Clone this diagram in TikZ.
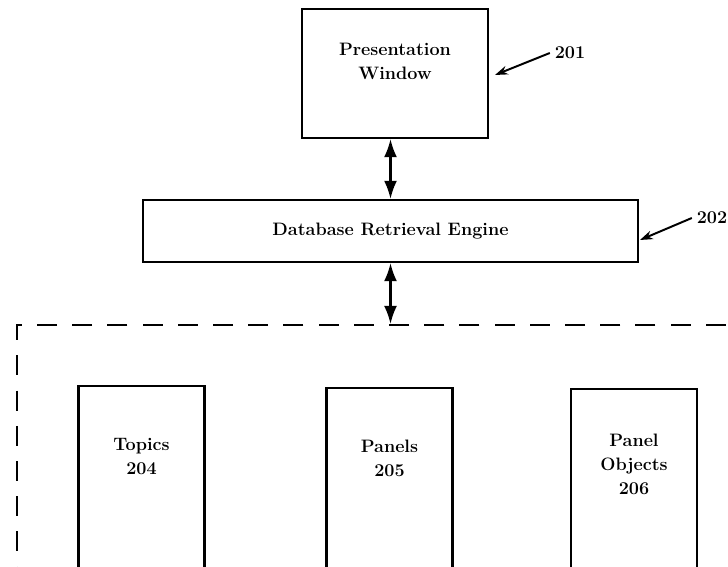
\documentclass[tikz,border=0pt]{standalone}
\usepackage{tikz}
\usetikzlibrary{arrows.meta, positioning, calc}

\tikzstyle{block} = [rectangle, draw, line width=1.5pt, inner sep=0pt]
\tikzstyle{column} = [block, anchor=north, minimum width=3.15cm, minimum height=6cm]
\tikzstyle{boxtext} = [font=\fontsize{12.8}{17}\selectfont\bfseries, align=center]
\tikzstyle{store} = [rectangle, draw, line width=1.5pt, dash pattern=on 0.5cm off 0.38cm, inner sep=0pt]
\tikzstyle{link} = [line width=1.5pt, {Latex[length=4.5mm,width=3.2mm]}-{Latex[length=4.5mm,width=3.2mm]}]
\tikzstyle{leader} = [line width=1.4pt, -{Stealth[length=3.2mm,width=2.2mm]}]

\begin{document}
\begin{tikzpicture}
    \clip (0,0) rectangle (18.2,14.175);

    % Presentation window and engine
    \node[block, minimum width=4.65cm, minimum height=3.225cm,
          label={[boxtext, anchor=center, yshift=-1.34cm]north:Presentation\\Window}] (window) at (9.875,12.3375) {};
    \node[block, boxtext, minimum width=12.375cm, minimum height=1.55cm] (engine) at (9.7625,8.4) {Database Retrieval Engine};

    % Reference numerals
    \node[boxtext] (n201) at (14.25,12.85) {201};
    \node[boxtext] (n202) at (17.8,8.725) {202};
    \coordinate (t201) at (12.375,12.3);
    \coordinate (t202) at (16.0,8.175);
    \draw[leader] (n201.west) -- (t201);
    \draw[leader] (n202.west) -- (t202);

    % Database region
    \node[store, anchor=north west, minimum width=19cm, minimum height=7cm] (db) at (0.4,6.075) {};

    % Tables
    \node[column, label={[boxtext, anchor=center, yshift=-1.78cm]north:Topics\\204}] (topics) at (3.5375,4.55) {};
    \node[column, label={[boxtext, anchor=center, yshift=-1.78cm]north:Panels\\205}] (panels) at (9.7375,4.5) {};
    \node[column, label={[boxtext, anchor=center, yshift=-1.9cm]north:Panel\\Objects\\206}] (objects) at (15.85,4.475) {};

    % Links
    \draw[link] (window.south -| engine.north) -- (engine.north);
    \draw[link] (engine.south) -- (engine.south |- db.north);
\end{tikzpicture}
\end{document}
